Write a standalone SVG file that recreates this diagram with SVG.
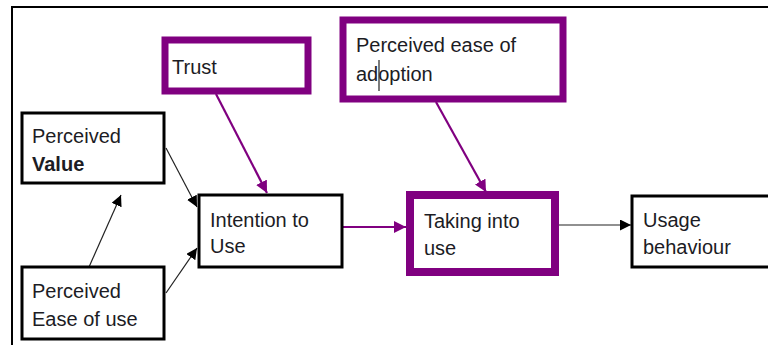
<svg xmlns="http://www.w3.org/2000/svg" width="768" height="345" viewBox="0 0 768 345">
<defs>
<style>
text{font-family:"Liberation Sans",Arial,sans-serif;font-size:20px;fill:#1c1c24}
.bx{fill:#fff;stroke:#000;stroke-width:3}
.px{fill:#fff;stroke:#800080;stroke-width:7}
.bl{stroke:#222;stroke-width:1.2;fill:none}
.pl{stroke:#800080;stroke-width:2.2;fill:none}
</style>
<marker id="ab" markerUnits="userSpaceOnUse" markerWidth="11" markerHeight="11" refX="10" refY="5" orient="auto" viewBox="0 0 10 10"><path d="M0,0 L10,5 L0,10 z" fill="#000"/></marker>
<marker id="ap" markerUnits="userSpaceOnUse" markerWidth="12" markerHeight="12" refX="10" refY="5" orient="auto" viewBox="0 0 10 10"><path d="M0,0 L10,5 L0,10 z" fill="#800080"/></marker>
</defs>
<rect width="768" height="345" fill="#fff"/>
<path d="M12,345 L12,7 L768,7" fill="none" stroke="#000" stroke-width="2"/>
<g id="connectors">
<line class="bl" x1="166" y1="148" x2="197" y2="207" marker-end="url(#ab)"/>
<line class="bl" x1="166" y1="293" x2="197" y2="248" marker-end="url(#ab)"/>
<line class="bl" x1="89" y1="267" x2="121" y2="195" marker-end="url(#ab)"/>
<line class="pl" x1="216" y1="94" x2="267" y2="193" marker-end="url(#ap)"/>
<line class="pl" x1="343" y1="227" x2="406" y2="227" marker-end="url(#ap)"/>
<line class="pl" x1="436" y1="102" x2="486" y2="192" marker-end="url(#ap)"/>
<line class="bl" x1="555" y1="225" x2="631" y2="225" marker-end="url(#ab)"/>
</g>
<g id="trust">
<rect class="px" x="165" y="40" width="143" height="51"/>
<text x="172" y="74">Trust</text>
</g>
<g id="ease-adoption">
<rect class="px" x="343" y="20" width="220" height="79"/>
<text x="356" y="52">Perceived ease of</text>
<text x="356" y="81">adoption</text>
<line x1="379" y1="60" x2="379" y2="91" stroke="#333" stroke-width="1.3"/>
</g>
<g id="perceived-value">
<rect class="bx" x="22" y="113" width="142" height="70"/>
<text x="32" y="143">Perceived</text>
<text x="32" y="171" font-weight="bold">Value</text>
</g>
<g id="perceived-ease">
<rect class="bx" x="22" y="267" width="142" height="72"/>
<text x="32" y="298">Perceived</text>
<text x="32" y="326">Ease of use</text>
</g>
<g id="intention">
<rect class="bx" x="199" y="195" width="143" height="72"/>
<text x="210" y="227">Intention to</text>
<text x="210" y="253">Use</text>
</g>
<g id="taking">
<rect class="px" x="410" y="195" width="145" height="77" style="stroke-width:8"/>
<text x="424" y="228">Taking into</text>
<text x="424" y="255">use</text>
</g>
<g id="usage">
<rect class="bx" x="632" y="196" width="150" height="71"/>
<text x="643" y="227">Usage</text>
<text x="643" y="254">behaviour</text>
</g>
</svg>
